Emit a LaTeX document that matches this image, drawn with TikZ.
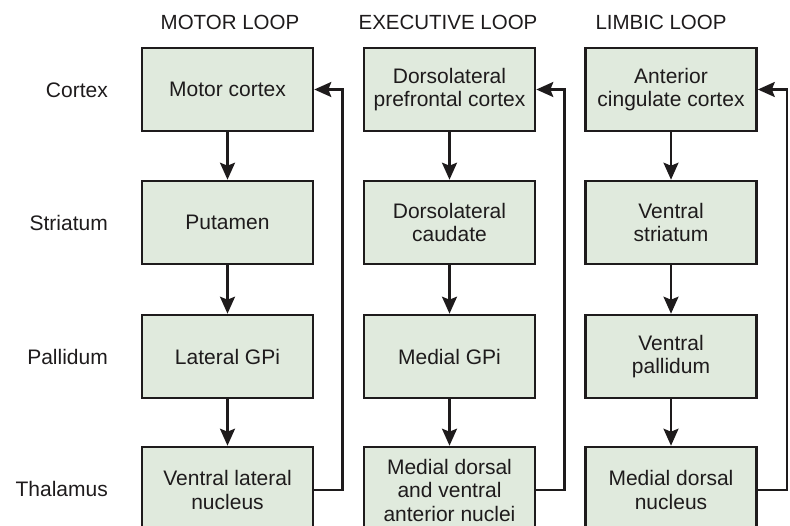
\documentclass[tikz,border=0pt]{standalone}
\usepackage{fontspec}
\setmainfont{Liberation Sans}
\usetikzlibrary{arrows.meta}
\definecolor{boxfill}{RGB}{224,234,221}
\definecolor{ink}{RGB}{30,27,28}
\begin{document}
\begin{tikzpicture}[x=1pt,y=-1pt,
  box/.style={draw=ink, line width=2.6pt, fill=boxfill, minimum width=171pt, minimum height=83pt,
    align=center, font=\fontsize{21}{23.5}\selectfont, text=ink, inner sep=0pt},
  lowbox/.style={box, minimum height=86pt},
  rowlab/.style={anchor=east, font=\fontsize{21}{24}\selectfont, text=ink, inner sep=0pt},
  title/.style={font=\fontsize{20.5}{24}\selectfont, text=ink, inner sep=0pt},
  arr/.style={draw=ink, line width=2.4pt, -{Stealth[length=17pt,width=15pt,inset=3pt]}}]
\useasboundingbox (0,0) rectangle (790,525);
\clip (0,0) rectangle (790,525);
% titles
\node[title] (t1) at (230,22) {MOTOR LOOP};
\node[title] (t2) at (448,22) {EXECUTIVE LOOP};
\node[title] (t3) at (661,22) {LIMBIC LOOP};
% row labels
\node[rowlab] (r1) at (108,90) {Cortex};
\node[rowlab] (r2) at (108,223) {Striatum};
\node[rowlab] (r3) at (108,357) {Pallidum};
\node[rowlab] (r4) at (108,489) {Thalamus};
% motor loop
\node[box] (m1) at (227.5,89.5) {Motor cortex};
\node[box] (m2) at (227.5,222.5) {Putamen};
\node[box] (m3) at (227.5,356.5) {Lateral GPi};
\node[lowbox] (m4) at (227.5,490) {Ventral lateral\\nucleus};
% executive loop
\node[box] (e1) at (449.5,89.5) {Dorsolateral\\prefrontal cortex};
\node[box] (e2) at (449.5,222.5) {Dorsolateral\\caudate};
\node[box] (e3) at (449.5,356.5) {Medial GPi};
\node[lowbox] (e4) at (449.5,490) {Medial dorsal\\and ventral\\anterior nuclei};
% limbic loop
\node[box] (l1) at (671,89.5) {Anterior\\cingulate cortex};
\node[box] (l2) at (671,222.5) {Ventral\\striatum};
\node[box] (l3) at (671,356.5) {Ventral\\pallidum};
\node[lowbox] (l4) at (671,490) {Medial dorsal\\nucleus};
% vertical arrows
\foreach \c in {m,e,l}{
  \draw[arr] (\c1) -- (\c2);
  \draw[arr] (\c2) -- (\c3);
  \draw[arr] (\c3) -- (\c4);
}
% feedback
\draw[arr] (m4.east) -- ++(28,0) |- (m1.east);
\draw[arr] (e4.east) -- ++(28,0) |- (e1.east);
\draw[arr] (l4.east) -- ++(29,0) |- (l1.east);
\end{tikzpicture}
\end{document}
